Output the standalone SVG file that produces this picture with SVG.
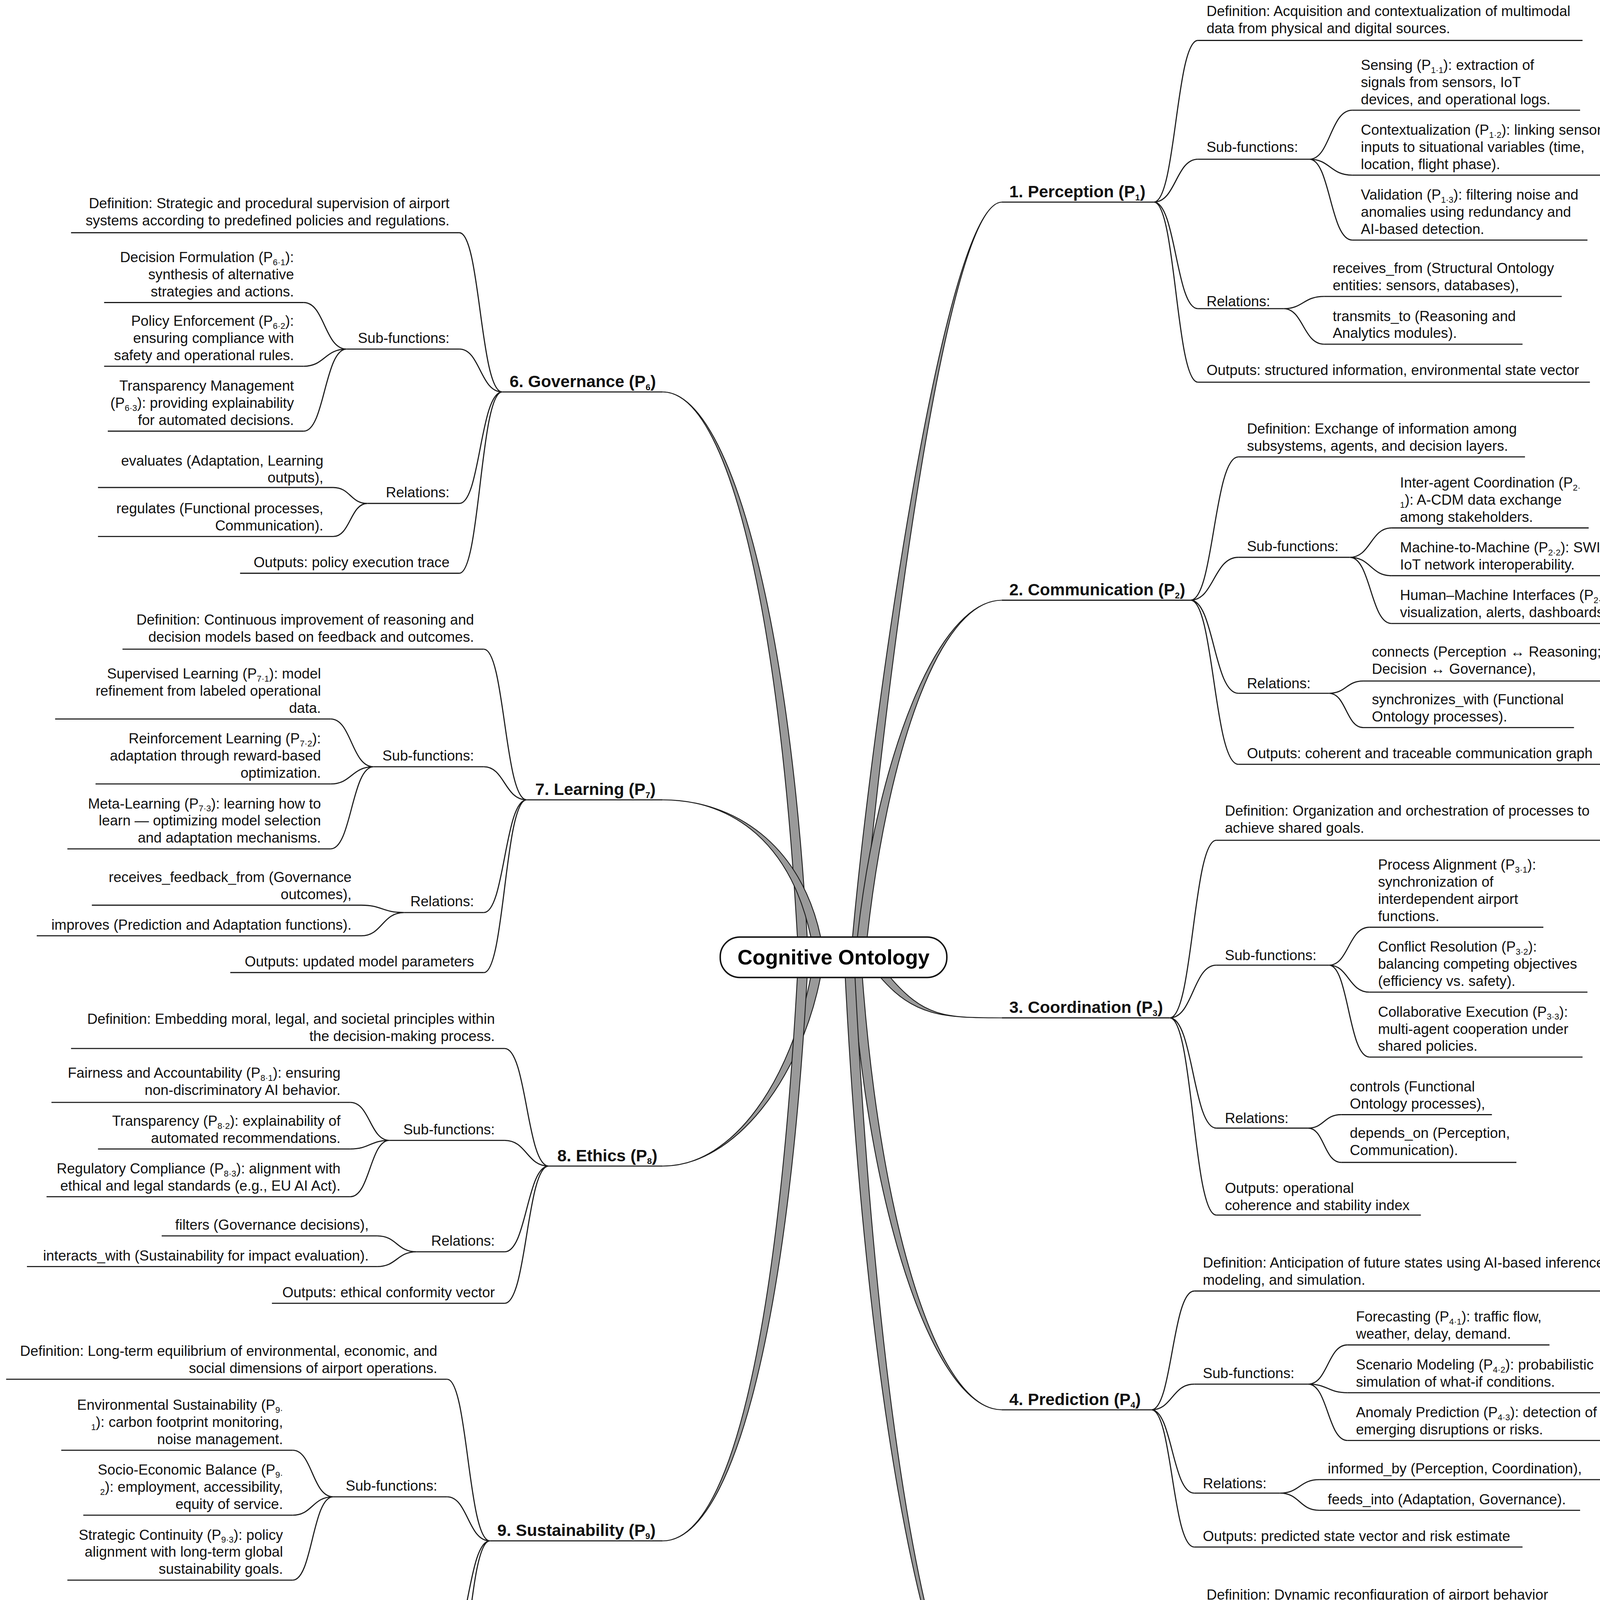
<svg xmlns="http://www.w3.org/2000/svg" width="4233" height="4914" viewBox="0 0 4233 4914">
<style>
.t{font-family:"Liberation Sans",Arial,sans-serif;font-size:11.7px;fill:#111}
.e{text-anchor:end}
.h{font-family:"Liberation Sans",Arial,sans-serif;font-size:13.6px;font-weight:bold;fill:#111}
.s{font-size:7px}
.u{stroke:#1a1a1a;stroke-width:0.9}
.c{fill:none;stroke:#1a1a1a;stroke-width:0.9}
.r{fill:#9a9a9a;stroke:#1a1a1a;stroke-width:0.7}
</style>
<rect width="4233" height="4914" fill="#fff"/>
<g transform="scale(3.1357)">
<g id="connectors">
<path class="r" d="M696 765 C711 600 770 165 818 165 C770 165 719 600 704 765 Z"/>
<path class="r" d="M700 765 C716 620 765 490 818 490 C765 490 724 620 708 765 Z"/>
<path class="r" d="M718 797 C746 830 770 831 818 831 C770 831 754 830 726 797 Z"/>
<path class="r" d="M696 797 C711 1000 765 1151 818 1151 C765 1151 719 1000 704 797 Z"/>
<path class="r" d="M690 797 C708 1150 760 1435 818 1435 C760 1435 716 1150 698 797 Z"/>
<path class="r" d="M651 765 C636 500 595 320 541 320 C595 320 644 500 659 765 Z"/>
<path class="r" d="M662 765 C646 690 600 653 541 653 C600 653 654 690 670 765 Z"/>
<path class="r" d="M662 797 C646 880 600 952 541 952 C600 952 654 880 670 797 Z"/>
<path class="r" d="M651 797 C634 1100 595 1258 541 1258 C595 1258 642 1100 659 797 Z"/>
<path class="c" d="M942 165 C960 165 960 33 978 33 M942 165 C960 165 960 130 978 130 M942 165 C960 165 960 252 978 252 M942 165 C960 165 960 312 978 312"/>
<path class="c" d="M1069 130 C1086 130 1086 90 1104 90 M1069 130 C1086 130 1086 143 1104 143 M1069 130 C1086 130 1086 196 1104 196 M1048 252 C1064 252 1064 242 1081 242 M1048 252 C1064 252 1064 281 1081 281"/>
<path class="c" d="M972 490 C991 490 991 373 1011 373 M972 490 C991 490 991 455 1011 455 M972 490 C991 490 991 566 1011 566 M972 490 C991 490 991 624 1011 624"/>
<path class="c" d="M1102 455 C1119 455 1119 431 1136 431 M1102 455 C1119 455 1119 470 1136 470 M1102 455 C1119 455 1119 509 1136 509 M1085 566 C1099 566 1099 556 1113 556 M1085 566 C1099 566 1099 594 1113 594"/>
<path class="c" d="M955 831 C974 831 974 686 993 686 M955 831 C974 831 974 788 993 788 M955 831 C974 831 974 921 993 921 M955 831 C974 831 974 992 993 992"/>
<path class="c" d="M1085 788 C1101 788 1101 757 1118 757 M1085 788 C1101 788 1101 810 1118 810 M1085 788 C1101 788 1101 863 1118 863 M1068 921 C1081 921 1081 910 1095 910 M1068 921 C1081 921 1081 949 1095 949"/>
<path class="c" d="M940 1151 C957 1151 957 1054 975 1054 M940 1151 C957 1151 957 1130 975 1130 M940 1151 C957 1151 957 1219 975 1219 M940 1151 C957 1151 957 1263 975 1263"/>
<path class="c" d="M1068 1130 C1084 1130 1084 1098 1100 1098 M1068 1130 C1084 1130 1084 1137 1100 1137 M1068 1130 C1084 1130 1084 1176 1100 1176 M1045 1219 C1061 1219 1061 1208 1077 1208 M1045 1219 C1061 1219 1061 1233 1077 1233"/>
<path class="c" d="M942 1435 C960 1435 960 1326 978 1326 M942 1435 C960 1435 960 1413 978 1413 M942 1435 C960 1435 960 1519 978 1519 M942 1435 C960 1435 960 1562 978 1562"/>
<path class="c" d="M1070 1413 C1087 1413 1087 1369 1104 1369 M1070 1413 C1087 1413 1087 1421 1104 1421 M1070 1413 C1087 1413 1087 1474 1104 1474 M1048 1519 C1064 1519 1064 1507 1081 1507 M1048 1519 C1064 1519 1064 1532 1081 1532"/>
<path class="c" d="M410 320 C392 320 392 190 375 190 M410 320 C392 320 392 285 375 285 M410 320 C392 320 392 411 375 411 M410 320 C392 320 392 468 375 468"/>
<path class="c" d="M283 285 C265 285 265 247 248 247 M283 285 C265 285 265 299 248 299 M283 285 C265 285 265 352 248 352 M300 411 C286 411 286 398 272 398 M300 411 C286 411 286 438 272 438"/>
<path class="c" d="M430 653 C412 653 412 530 395 530 M430 653 C412 653 412 626 395 626 M430 653 C412 653 412 745 395 745 M430 653 C412 653 412 794 395 794"/>
<path class="c" d="M305 626 C287 626 287 587 270 587 M305 626 C287 626 287 640 270 640 M305 626 C287 626 287 693 270 693 M330 745 C312 745 312 739 295 739 M330 745 C312 745 312 764 295 764"/>
<path class="c" d="M448 952 C430 952 430 856 412 856 M448 952 C430 952 430 931 412 931 M448 952 C430 952 430 1022 412 1022 M448 952 C430 952 430 1064 412 1064"/>
<path class="c" d="M318 931 C302 931 302 900 286 900 M318 931 C302 931 302 938 286 938 M318 931 C302 931 302 977 286 977 M340 1022 C324 1022 324 1009 308 1009 M340 1022 C324 1022 324 1034 308 1034"/>
<path class="c" d="M400 1258 C382 1258 382 1126 365 1126 M400 1258 C382 1258 382 1222 365 1222 M400 1258 C382 1258 382 1348 365 1348 M400 1258 C382 1258 382 1405 365 1405"/>
<path class="c" d="M272 1222 C255 1222 255 1184 239 1184 M272 1222 C255 1222 255 1237 239 1237 M272 1222 C255 1222 255 1290 239 1290 M292 1348 C277 1348 277 1336 262 1336 M292 1348 C277 1348 277 1375 262 1375"/>
</g>

<g id="root">
<rect x="588" y="765" width="185" height="33" rx="16" fill="#fff" stroke="#111" stroke-width="1.2"/>
<text x="680.5" y="787.5" text-anchor="middle" style="font-family:'Liberation Sans',Arial,sans-serif;font-size:17px;font-weight:bold">Cognitive Ontology</text>
</g>

<g id="p1"><text class="h" x="824" y="161">1. Perception (P<tspan class="s" dy="2.5">1</tspan><tspan dy="-2.5">)</tspan></text><line class="u" x1="818" y1="165" x2="942" y2="165"/></g>
<g id="p1-def"><text class="t" x="985" y="13">Definition: Acquisition and contextualization of multimodal</text><text class="t" x="985" y="27">data from physical and digital sources.</text><line class="u" x1="978" y1="33" x2="1292" y2="33"/></g>
<g id="p1-sub"><text class="t" x="985" y="124">Sub-functions:</text><line class="u" x1="978" y1="130" x2="1069" y2="130"/></g>
<g id="p1-s1"><text class="t" x="1111" y="57">Sensing (P<tspan class="s" dy="2.5">1·1</tspan><tspan dy="-2.5">): extraction of</tspan></text><text class="t" x="1111" y="71">signals from sensors, IoT</text><text class="t" x="1111" y="85">devices, and operational logs.</text><line class="u" x1="1104" y1="90" x2="1290" y2="90"/></g>
<g id="p1-s2"><text class="t" x="1111" y="110">Contextualization (P<tspan class="s" dy="2.5">1·2</tspan><tspan dy="-2.5">): linking sensory</tspan></text><text class="t" x="1111" y="124">inputs to situational variables (time,</text><text class="t" x="1111" y="138">location, flight phase).</text><line class="u" x1="1104" y1="143" x2="1320" y2="143"/></g>
<g id="p1-s3"><text class="t" x="1111" y="163">Validation (P<tspan class="s" dy="2.5">1·3</tspan><tspan dy="-2.5">): filtering noise and</tspan></text><text class="t" x="1111" y="177">anomalies using redundancy and</text><text class="t" x="1111" y="191">AI-based detection.</text><line class="u" x1="1104" y1="196" x2="1296" y2="196"/></g>
<g id="p1-rel"><text class="t" x="985" y="250">Relations:</text><line class="u" x1="978" y1="252" x2="1048" y2="252"/></g>
<g id="p1-r1"><text class="t" x="1088" y="223">receives_from (Structural Ontology</text><text class="t" x="1088" y="237">entities: sensors, databases),</text><line class="u" x1="1081" y1="242" x2="1275" y2="242"/></g>
<g id="p1-r2"><text class="t" x="1088" y="262">transmits_to (Reasoning and</text><text class="t" x="1088" y="276">Analytics modules).</text><line class="u" x1="1081" y1="281" x2="1243" y2="281"/></g>
<g id="p1-out"><text class="t" x="985" y="306">Outputs: structured information, environmental state vector</text><line class="u" x1="978" y1="312" x2="1298" y2="312"/></g>

<g id="p2"><text class="h" x="824" y="486">2. Communication (P<tspan class="s" dy="2.5">2</tspan><tspan dy="-2.5">)</tspan></text><line class="u" x1="818" y1="490" x2="972" y2="490"/></g>
<g id="p2-def"><text class="t" x="1018" y="354">Definition: Exchange of information among</text><text class="t" x="1018" y="368">subsystems, agents, and decision layers.</text><line class="u" x1="1011" y1="373" x2="1245" y2="373"/></g>
<g id="p2-sub"><text class="t" x="1018" y="450">Sub-functions:</text><line class="u" x1="1011" y1="455" x2="1102" y2="455"/></g>
<g id="p2-s1"><text class="t" x="1143" y="398">Inter-agent Coordination (P<tspan class="s" dy="2.5">2·</tspan></text><text class="t" x="1143" y="412"><tspan class="s" dy="2.5">1</tspan><tspan dy="-2.5">): A-CDM data exchange</tspan></text><text class="t" x="1143" y="426">among stakeholders.</text><line class="u" x1="1136" y1="431" x2="1297" y2="431"/></g>
<g id="p2-s2"><text class="t" x="1143" y="451">Machine-to-Machine (P<tspan class="s" dy="2.5">2·2</tspan><tspan dy="-2.5">): SWIM and</tspan></text><text class="t" x="1143" y="465">IoT network interoperability.</text><line class="u" x1="1136" y1="470" x2="1347" y2="470"/></g>
<g id="p2-s3"><text class="t" x="1143" y="490">Human–Machine Interfaces (P<tspan class="s" dy="2.5">2·3</tspan><tspan dy="-2.5">):</tspan></text><text class="t" x="1143" y="504">visualization, alerts, dashboards.</text><line class="u" x1="1136" y1="509" x2="1322" y2="509"/></g>
<g id="p2-rel"><text class="t" x="1018" y="562">Relations:</text><line class="u" x1="1011" y1="566" x2="1085" y2="566"/></g>
<g id="p2-r1"><text class="t" x="1120" y="536">connects (Perception ↔ Reasoning;</text><text class="t" x="1120" y="550">Decision ↔ Governance),</text><line class="u" x1="1113" y1="556" x2="1316" y2="556"/></g>
<g id="p2-r2"><text class="t" x="1120" y="575">synchronizes_with (Functional</text><text class="t" x="1120" y="589">Ontology processes).</text><line class="u" x1="1113" y1="594" x2="1285" y2="594"/></g>
<g id="p2-out"><text class="t" x="1018" y="619">Outputs: coherent and traceable communication graph</text><line class="u" x1="1011" y1="624" x2="1310" y2="624"/></g>

<g id="p3"><text class="h" x="824" y="827">3. Coordination (P<tspan class="s" dy="2.5">3</tspan><tspan dy="-2.5">)</tspan></text><line class="u" x1="818" y1="831" x2="955" y2="831"/></g>
<g id="p3-def"><text class="t" x="1000" y="666">Definition: Organization and orchestration of processes to</text><text class="t" x="1000" y="680">achieve shared goals.</text><line class="u" x1="993" y1="686" x2="1307" y2="686"/></g>
<g id="p3-sub"><text class="t" x="1000" y="784">Sub-functions:</text><line class="u" x1="993" y1="788" x2="1085" y2="788"/></g>
<g id="p3-s1"><text class="t" x="1125" y="710">Process Alignment (P<tspan class="s" dy="2.5">3·1</tspan><tspan dy="-2.5">):</tspan></text><text class="t" x="1125" y="724">synchronization of</text><text class="t" x="1125" y="738">interdependent airport</text><text class="t" x="1125" y="752">functions.</text><line class="u" x1="1118" y1="757" x2="1260" y2="757"/></g>
<g id="p3-s2"><text class="t" x="1125" y="777">Conflict Resolution (P<tspan class="s" dy="2.5">3·2</tspan><tspan dy="-2.5">):</tspan></text><text class="t" x="1125" y="791">balancing competing objectives</text><text class="t" x="1125" y="805">(efficiency vs. safety).</text><line class="u" x1="1118" y1="810" x2="1296" y2="810"/></g>
<g id="p3-s3"><text class="t" x="1125" y="830">Collaborative Execution (P<tspan class="s" dy="2.5">3·3</tspan><tspan dy="-2.5">):</tspan></text><text class="t" x="1125" y="844">multi-agent cooperation under</text><text class="t" x="1125" y="858">shared policies.</text><line class="u" x1="1118" y1="863" x2="1292" y2="863"/></g>
<g id="p3-rel"><text class="t" x="1000" y="917">Relations:</text><line class="u" x1="993" y1="921" x2="1068" y2="921"/></g>
<g id="p3-r1"><text class="t" x="1102" y="891">controls (Functional</text><text class="t" x="1102" y="905">Ontology processes),</text><line class="u" x1="1095" y1="910" x2="1218" y2="910"/></g>
<g id="p3-r2"><text class="t" x="1102" y="929">depends_on (Perception,</text><text class="t" x="1102" y="943">Communication).</text><line class="u" x1="1095" y1="949" x2="1238" y2="949"/></g>
<g id="p3-out"><text class="t" x="1000" y="974">Outputs: operational</text><text class="t" x="1000" y="988">coherence and stability index</text><line class="u" x1="993" y1="992" x2="1160" y2="992"/></g>

<g id="p4"><text class="h" x="824" y="1147">4. Prediction (P<tspan class="s" dy="2.5">4</tspan><tspan dy="-2.5">)</tspan></text><line class="u" x1="818" y1="1151" x2="940" y2="1151"/></g>
<g id="p4-def"><text class="t" x="982" y="1035">Definition: Anticipation of future states using AI-based inference,</text><text class="t" x="982" y="1049">modeling, and simulation.</text><line class="u" x1="975" y1="1054" x2="1322" y2="1054"/></g>
<g id="p4-sub"><text class="t" x="982" y="1125">Sub-functions:</text><line class="u" x1="975" y1="1130" x2="1068" y2="1130"/></g>
<g id="p4-s1"><text class="t" x="1107" y="1079">Forecasting (P<tspan class="s" dy="2.5">4·1</tspan><tspan dy="-2.5">): traffic flow,</tspan></text><text class="t" x="1107" y="1093">weather, delay, demand.</text><line class="u" x1="1100" y1="1098" x2="1265" y2="1098"/></g>
<g id="p4-s2"><text class="t" x="1107" y="1118">Scenario Modeling (P<tspan class="s" dy="2.5">4·2</tspan><tspan dy="-2.5">): probabilistic</tspan></text><text class="t" x="1107" y="1132">simulation of what-if conditions.</text><line class="u" x1="1100" y1="1137" x2="1307" y2="1137"/></g>
<g id="p4-s3"><text class="t" x="1107" y="1157">Anomaly Prediction (P<tspan class="s" dy="2.5">4·3</tspan><tspan dy="-2.5">): detection of</tspan></text><text class="t" x="1107" y="1171">emerging disruptions or risks.</text><line class="u" x1="1100" y1="1176" x2="1310" y2="1176"/></g>
<g id="p4-rel"><text class="t" x="982" y="1215">Relations:</text><line class="u" x1="975" y1="1219" x2="1045" y2="1219"/></g>
<g id="p4-r1"><text class="t" x="1084" y="1203">informed_by (Perception, Coordination),</text><line class="u" x1="1077" y1="1208" x2="1326" y2="1208"/></g>
<g id="p4-r2"><text class="t" x="1084" y="1228">feeds_into (Adaptation, Governance).</text><line class="u" x1="1077" y1="1233" x2="1290" y2="1233"/></g>
<g id="p4-out"><text class="t" x="982" y="1258">Outputs: predicted state vector and risk estimate</text><line class="u" x1="975" y1="1263" x2="1243" y2="1263"/></g>

<g id="p5"><text class="h" x="824" y="1431">5. Adaptation (P<tspan class="s" dy="2.5">5</tspan><tspan dy="-2.5">)</tspan></text><line class="u" x1="818" y1="1435" x2="942" y2="1435"/></g>
<g id="p5-def"><text class="t" x="985" y="1306">Definition: Dynamic reconfiguration of airport behavior</text><text class="t" x="985" y="1320">in response to internal or external changes.</text><line class="u" x1="978" y1="1326" x2="1282" y2="1326"/></g>
<g id="p5-sub"><text class="t" x="985" y="1409">Sub-functions:</text><line class="u" x1="978" y1="1413" x2="1070" y2="1413"/></g>
<g id="p5-s1"><text class="t" x="1111" y="1349">Parameter Tuning (P<tspan class="s" dy="2.5">5·1</tspan><tspan dy="-2.5">): automatic</tspan></text><text class="t" x="1111" y="1363">optimization of control rules.</text><line class="u" x1="1104" y1="1369" x2="1297" y2="1369"/></g>
<g id="p5-s2"><text class="t" x="1111" y="1388">Workflow Reconfiguration (P<tspan class="s" dy="2.5">5·</tspan></text><text class="t" x="1111" y="1402"><tspan class="s" dy="2.5">2</tspan><tspan dy="-2.5">): realignment of schedules,</tspan></text><text class="t" x="1111" y="1416">staff, or priorities.</text><line class="u" x1="1104" y1="1421" x2="1297" y2="1421"/></g>
<g id="p5-s3"><text class="t" x="1111" y="1441">Resilience Management (P<tspan class="s" dy="2.5">5·3</tspan><tspan dy="-2.5">):</tspan></text><text class="t" x="1111" y="1455">maintaining service continuity</text><text class="t" x="1111" y="1469">under disruption.</text><line class="u" x1="1104" y1="1474" x2="1290" y2="1474"/></g>
<g id="p5-rel"><text class="t" x="985" y="1514">Relations:</text><line class="u" x1="978" y1="1519" x2="1048" y2="1519"/></g>
<g id="p5-r1"><text class="t" x="1088" y="1502">acts_on (Functional Ontology processes),</text><line class="u" x1="1081" y1="1507" x2="1312" y2="1507"/></g>
<g id="p5-r2"><text class="t" x="1088" y="1527">monitored_by (Governance layer).</text><line class="u" x1="1081" y1="1532" x2="1275" y2="1532"/></g>
<g id="p5-out"><text class="t" x="985" y="1557">Outputs: adaptive policy set</text><line class="u" x1="978" y1="1562" x2="1140" y2="1562"/></g>

<g id="p6"><text class="h" x="416" y="316">6. Governance (P<tspan class="s" dy="2.5">6</tspan><tspan dy="-2.5">)</tspan></text><line class="u" x1="410" y1="320" x2="541" y2="320"/></g>
<g id="p6-def"><text class="t e" x="367" y="170">Definition: Strategic and procedural supervision of airport</text><text class="t e" x="367" y="184">systems according to predefined policies and regulations.</text><line class="u" x1="58" y1="190" x2="375" y2="190"/></g>
<g id="p6-sub"><text class="t e" x="367" y="280">Sub-functions:</text><line class="u" x1="283" y1="285" x2="375" y2="285"/></g>
<g id="p6-s1"><text class="t e" x="240" y="214">Decision Formulation (P<tspan class="s" dy="2.5">6·1</tspan><tspan dy="-2.5">):</tspan></text><text class="t e" x="240" y="228">synthesis of alternative</text><text class="t e" x="240" y="242">strategies and actions.</text><line class="u" x1="85" y1="247" x2="248" y2="247"/></g>
<g id="p6-s2"><text class="t e" x="240" y="266">Policy Enforcement (P<tspan class="s" dy="2.5">6·2</tspan><tspan dy="-2.5">):</tspan></text><text class="t e" x="240" y="280">ensuring compliance with</text><text class="t e" x="240" y="294">safety and operational rules.</text><line class="u" x1="85" y1="299" x2="248" y2="299"/></g>
<g id="p6-s3"><text class="t e" x="240" y="319">Transparency Management</text><text class="t e" x="240" y="333">(P<tspan class="s" dy="2.5">6·3</tspan><tspan dy="-2.5">): providing explainability</tspan></text><text class="t e" x="240" y="347">for automated decisions.</text><line class="u" x1="88" y1="352" x2="248" y2="352"/></g>
<g id="p6-rel"><text class="t e" x="367" y="406">Relations:</text><line class="u" x1="300" y1="411" x2="375" y2="411"/></g>
<g id="p6-r1"><text class="t e" x="264" y="380">evaluates (Adaptation, Learning</text><text class="t e" x="264" y="394">outputs),</text><line class="u" x1="80" y1="398" x2="272" y2="398"/></g>
<g id="p6-r2"><text class="t e" x="264" y="419">regulates (Functional processes,</text><text class="t e" x="264" y="433">Communication).</text><line class="u" x1="80" y1="438" x2="272" y2="438"/></g>
<g id="p6-out"><text class="t e" x="367" y="463">Outputs: policy execution trace</text><line class="u" x1="196" y1="468" x2="375" y2="468"/></g>

<g id="p7"><text class="h" x="437" y="649">7. Learning (P<tspan class="s" dy="2.5">7</tspan><tspan dy="-2.5">)</tspan></text><line class="u" x1="430" y1="653" x2="541" y2="653"/></g>
<g id="p7-def"><text class="t e" x="387" y="510">Definition: Continuous improvement of reasoning and</text><text class="t e" x="387" y="524">decision models based on feedback and outcomes.</text><line class="u" x1="100" y1="530" x2="395" y2="530"/></g>
<g id="p7-sub"><text class="t e" x="387" y="621">Sub-functions:</text><line class="u" x1="305" y1="626" x2="395" y2="626"/></g>
<g id="p7-s1"><text class="t e" x="262" y="554">Supervised Learning (P<tspan class="s" dy="2.5">7·1</tspan><tspan dy="-2.5">): model</tspan></text><text class="t e" x="262" y="568">refinement from labeled operational</text><text class="t e" x="262" y="582">data.</text><line class="u" x1="45" y1="587" x2="270" y2="587"/></g>
<g id="p7-s2"><text class="t e" x="262" y="607">Reinforcement Learning (P<tspan class="s" dy="2.5">7·2</tspan><tspan dy="-2.5">):</tspan></text><text class="t e" x="262" y="621">adaptation through reward-based</text><text class="t e" x="262" y="635">optimization.</text><line class="u" x1="78" y1="640" x2="270" y2="640"/></g>
<g id="p7-s3"><text class="t e" x="262" y="660">Meta-Learning (P<tspan class="s" dy="2.5">7·3</tspan><tspan dy="-2.5">): learning how to</tspan></text><text class="t e" x="262" y="674">learn — optimizing model selection</text><text class="t e" x="262" y="688">and adaptation mechanisms.</text><line class="u" x1="55" y1="693" x2="270" y2="693"/></g>
<g id="p7-rel"><text class="t e" x="387" y="740">Relations:</text><line class="u" x1="330" y1="745" x2="395" y2="745"/></g>
<g id="p7-r1"><text class="t e" x="287" y="720">receives_feedback_from (Governance</text><text class="t e" x="287" y="734">outcomes),</text><line class="u" x1="75" y1="739" x2="295" y2="739"/></g>
<g id="p7-r2"><text class="t e" x="287" y="759">improves (Prediction and Adaptation functions).</text><line class="u" x1="30" y1="764" x2="295" y2="764"/></g>
<g id="p7-out"><text class="t e" x="387" y="789">Outputs: updated model parameters</text><line class="u" x1="188" y1="794" x2="395" y2="794"/></g>

<g id="p8"><text class="h" x="455" y="948">8. Ethics (P<tspan class="s" dy="2.5">8</tspan><tspan dy="-2.5">)</tspan></text><line class="u" x1="448" y1="952" x2="541" y2="952"/></g>
<g id="p8-def"><text class="t e" x="404" y="836">Definition: Embedding moral, legal, and societal principles within</text><text class="t e" x="404" y="850">the decision-making process.</text><line class="u" x1="58" y1="856" x2="412" y2="856"/></g>
<g id="p8-sub"><text class="t e" x="404" y="926">Sub-functions:</text><line class="u" x1="318" y1="931" x2="412" y2="931"/></g>
<g id="p8-s1"><text class="t e" x="278" y="880">Fairness and Accountability (P<tspan class="s" dy="2.5">8·1</tspan><tspan dy="-2.5">): ensuring</tspan></text><text class="t e" x="278" y="894">non-discriminatory AI behavior.</text><line class="u" x1="42" y1="900" x2="286" y2="900"/></g>
<g id="p8-s2"><text class="t e" x="278" y="919">Transparency (P<tspan class="s" dy="2.5">8·2</tspan><tspan dy="-2.5">): explainability of</tspan></text><text class="t e" x="278" y="933">automated recommendations.</text><line class="u" x1="80" y1="938" x2="286" y2="938"/></g>
<g id="p8-s3"><text class="t e" x="278" y="958">Regulatory Compliance (P<tspan class="s" dy="2.5">8·3</tspan><tspan dy="-2.5">): alignment with</tspan></text><text class="t e" x="278" y="972">ethical and legal standards (e.g., EU AI Act).</text><line class="u" x1="38" y1="977" x2="286" y2="977"/></g>
<g id="p8-rel"><text class="t e" x="404" y="1017">Relations:</text><line class="u" x1="340" y1="1022" x2="412" y2="1022"/></g>
<g id="p8-r1"><text class="t e" x="301" y="1004">filters (Governance decisions),</text><line class="u" x1="132" y1="1009" x2="308" y2="1009"/></g>
<g id="p8-r2"><text class="t e" x="301" y="1029">interacts_with (Sustainability for impact evaluation).</text><line class="u" x1="22" y1="1034" x2="308" y2="1034"/></g>
<g id="p8-out"><text class="t e" x="404" y="1059">Outputs: ethical conformity vector</text><line class="u" x1="222" y1="1064" x2="412" y2="1064"/></g>

<g id="p9"><text class="h" x="406" y="1254">9. Sustainability (P<tspan class="s" dy="2.5">9</tspan><tspan dy="-2.5">)</tspan></text><line class="u" x1="400" y1="1258" x2="541" y2="1258"/></g>
<g id="p9-def"><text class="t e" x="357" y="1107">Definition: Long-term equilibrium of environmental, economic, and</text><text class="t e" x="357" y="1121">social dimensions of airport operations.</text><line class="u" x1="5" y1="1126" x2="365" y2="1126"/></g>
<g id="p9-sub"><text class="t e" x="357" y="1217">Sub-functions:</text><line class="u" x1="272" y1="1222" x2="365" y2="1222"/></g>
<g id="p9-s1"><text class="t e" x="231" y="1151">Environmental Sustainability (P<tspan class="s" dy="2.5">9·</tspan></text><text class="t e" x="231" y="1165"><tspan class="s" dy="2.5">1</tspan><tspan dy="-2.5">): carbon footprint monitoring,</tspan></text><text class="t e" x="231" y="1179">noise management.</text><line class="u" x1="50" y1="1184" x2="239" y2="1184"/></g>
<g id="p9-s2"><text class="t e" x="231" y="1204">Socio-Economic Balance (P<tspan class="s" dy="2.5">9·</tspan></text><text class="t e" x="231" y="1218"><tspan class="s" dy="2.5">2</tspan><tspan dy="-2.5">): employment, accessibility,</tspan></text><text class="t e" x="231" y="1232">equity of service.</text><line class="u" x1="68" y1="1237" x2="239" y2="1237"/></g>
<g id="p9-s3"><text class="t e" x="231" y="1257">Strategic Continuity (P<tspan class="s" dy="2.5">9·3</tspan><tspan dy="-2.5">): policy</tspan></text><text class="t e" x="231" y="1271">alignment with long-term global</text><text class="t e" x="231" y="1285">sustainability goals.</text><line class="u" x1="55" y1="1290" x2="239" y2="1290"/></g>
<g id="p9-rel"><text class="t e" x="357" y="1343">Relations:</text><line class="u" x1="292" y1="1348" x2="365" y2="1348"/></g>
<g id="p9-r1"><text class="t e" x="254" y="1317">receives_feedback_from (Ethics,</text><text class="t e" x="254" y="1331">Governance),</text><line class="u" x1="72" y1="1336" x2="262" y2="1336"/></g>
<g id="p9-r2"><text class="t e" x="254" y="1356">informs (Strategic Planning, External</text><text class="t e" x="254" y="1370">Reporting).</text><line class="u" x1="52" y1="1375" x2="262" y2="1375"/></g>
<g id="p9-out"><text class="t e" x="357" y="1400">Outputs: sustainability performance index</text><line class="u" x1="133" y1="1405" x2="365" y2="1405" style="stroke:#2a2a6a"/></g>
</g>
</svg>
